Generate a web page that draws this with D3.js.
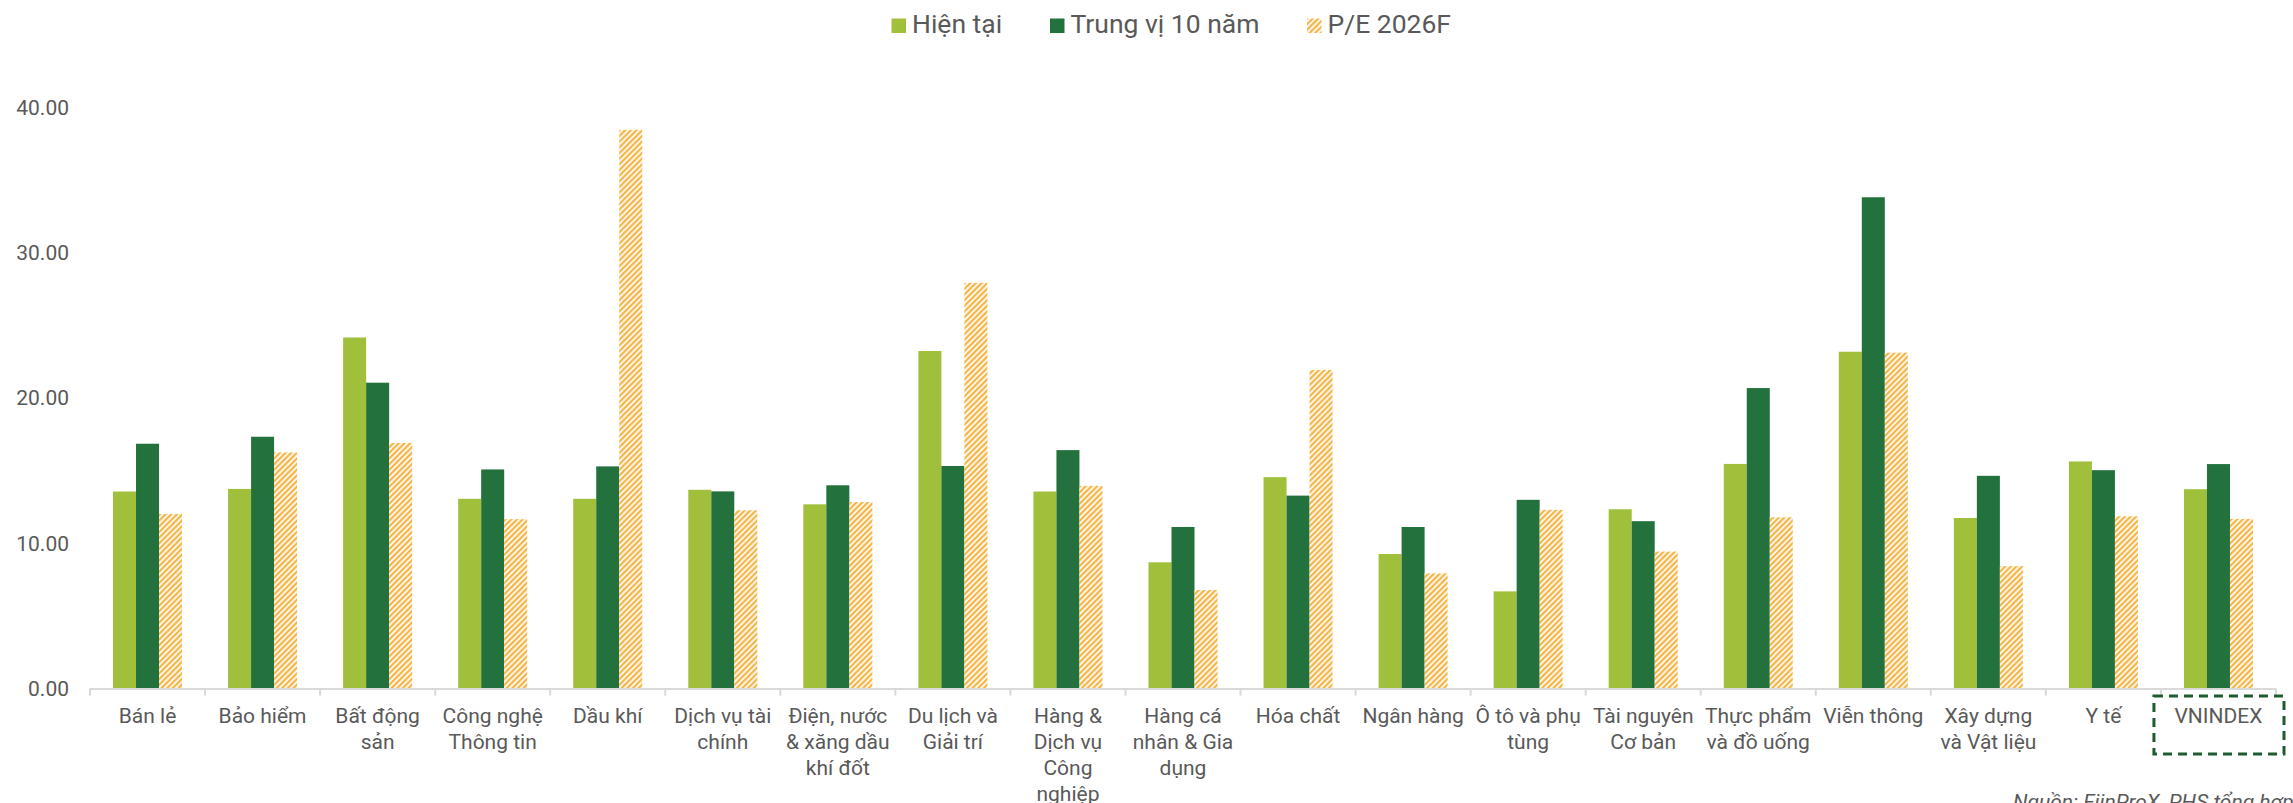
<!DOCTYPE html>
<html>
<head>
<meta charset="utf-8">
<script src="https://cdn.jsdelivr.net/npm/d3@7"></script>
<style>
  body { margin: 0; background: #fff; }
  text { font-family: Roboto, "Noto Sans", sans-serif; fill: #595959; }
</style>
</head>
<body>
<div id="chart-area"></div>
<script>
// P/E theo ngành
const categories = [
  "Bán lẻ", "Bảo hiểm", "Bất động\nsản", "Công nghệ\nThông tin", "Dầu khí",
  "Dịch vụ tài\nchính", "Điện, nước\n& xăng dầu\nkhí đốt", "Du lịch và\nGiải trí",
  "Hàng &\nDịch vụ\nCông\nnghiệp", "Hàng cá\nnhân & Gia\ndụng", "Hóa chất",
  "Ngân hàng", "Ô tô và phụ\ntùng", "Tài nguyên\nCơ bản", "Thực phẩm\nvà đồ uống",
  "Viễn thông", "Xây dựng\nvà Vật liệu", "Y tế", "VNINDEX"
]
const seriesNames = ["Hiện tại", "Trung vị 10 năm", "P/E 2026F"]
const hienTai  = [13.56, 13.74, 24.16, 13.06, 13.06, 13.68, 12.68, 23.23, 13.56, 8.69, 14.55, 9.26, 6.69, 12.34, 15.46, 23.18, 11.74, 15.63, 13.72]
const trungVi  = [16.85, 17.33, 21.05, 15.08, 15.29, 13.57, 13.99, 15.32, 16.41, 11.12, 13.28, 11.12, 12.99, 11.52, 20.68, 33.81, 14.64, 15.03, 15.45]
const pe2026   = [12.02, 16.25, 16.90, 11.66, 38.45, 12.27, 12.84, 27.92, 13.95, 6.78, 21.93, 7.93, 12.30, 9.43, 11.79, 23.12, 8.43, 11.86, 11.68]
const yTicks = [0, 10, 20, 30, 40]

const W = 2293, H = 803
const COLORS = ["#A0C03B", "#23713C", "#F6B548"]

const svg = d3.select("#chart-area").append("svg")
  .attr("width", W)
  .attr("height", H)

// hatch pattern for P/E 2026F
const defs = svg.append("defs")
const pat = defs.append("pattern")
  .attr("id", "hatch")
  .attr("patternUnits", "userSpaceOnUse")
  .attr("width", 4)
  .attr("height", 4)
  .attr("patternTransform", "rotate(45)")
pat.append("rect").attr("width", 4).attr("height", 4).attr("fill", "#fff")
pat.append("rect").attr("width", 2.3).attr("height", 4).attr("fill", COLORS[2])

const fills = [COLORS[0], COLORS[1], "url(#hatch)"]

const x = d3.scaleBand()
  .domain(categories)
  .range([90, 2276])

const bw = x.bandwidth()
const x1 = d3.scaleBand()
  .domain(seriesNames)
  .range([bw * 0.2, bw * 0.8])

const y = d3.scaleLinear()
  .domain([0, 40])
  .range([688.6, 107.3])

// Y axis
const yAxisCall = d3.axisLeft(y)
  .tickValues(yTicks)
  .tickSize(0)
  .tickPadding(3)
  .tickFormat(d3.format(".2f"))
const yAxis = svg.append("g")
  .attr("transform", "translate(72, 0)")
  .call(yAxisCall)
yAxis.select(".domain").remove()
yAxis.selectAll("text")
  .attr("font-size", "21px")
  .attr("font-family", "Roboto, sans-serif")
  .style("fill", "#595959")

// bars
const table = categories.map(function(c, i) {
  return { cat: c, values: [hienTai[i], trungVi[i], pe2026[i]] }
})

const groups = svg.selectAll("g.cat")
  .data(table)
  .enter().append("g")
  .attr("class", "cat")
  .attr("transform", function(d) { return "translate(" + x(d.cat) + ",0)" })

groups.selectAll("rect")
  .data(function(d) { return d.values.map(function(v, j) { return { s: seriesNames[j], v: v, j: j } }) })
  .enter().append("rect")
  .attr("x", function(d) { return x1(d.s) })
  .attr("y", function(d) { return y(d.v) })
  .attr("width", x1.bandwidth())
  .attr("height", function(d) { return y(0) - y(d.v) })
  .attr("fill", function(d) { return fills[d.j] })

// X axis line + ticks at band edges
const xAxis = svg.append("g").attr("class", "x axis")
xAxis.append("line")
  .attr("x1", x.range()[0]).attr("x2", x.range()[1])
  .attr("y1", y(0) + 0.5).attr("y2", y(0) + 0.5)
  .attr("stroke", "#d9d9d9").attr("stroke-width", 2)
const edges = categories.map(function(c) { return x(c) }).concat([x.range()[1]])
xAxis.selectAll("line.tick")
  .data(edges)
  .enter().append("line")
  .attr("class", "tick")
  .attr("x1", function(d) { return d }).attr("x2", function(d) { return d })
  .attr("y1", y(0)).attr("y2", y(0) + 7)
  .attr("stroke", "#d9d9d9").attr("stroke-width", 2)

const labels = xAxis.selectAll("text")
  .data(categories)
  .enter().append("text")
  .attr("text-anchor", "middle")
  .attr("font-size", "21px")
  .attr("y", 723.3)

labels.selectAll("tspan")
  .data(function(d) { return d.split("\n").map(function(t) { return { t: t, c: d } }) })
  .enter().append("tspan")
  .attr("x", function(d) { return x(d.c) + bw / 2 })
  .attr("dy", function(d, i) { return i === 0 ? 0 : 25.8 })
  .text(function(d) { return d.t })

// dashed highlight around VNINDEX
const last = categories[categories.length - 1]
svg.append("rect")
  .attr("x", x(last) - 7)
  .attr("y", 696)
  .attr("width", bw + 15)
  .attr("height", 58)
  .attr("fill", "none")
  .attr("stroke", "#1E5B2F")
  .attr("stroke-width", 3)
  .attr("stroke-dasharray", "9,6")

// legend
const legendX = [891.5, 1050, 1307]
const legend = svg.selectAll("g.legend")
  .data(seriesNames)
  .enter().append("g")
  .attr("class", "legend")
  .attr("transform", function(d, i) { return "translate(" + legendX[i] + ",0)" })
legend.append("rect")
  .attr("x", 0).attr("y", 18.5)
  .attr("width", 14.5).attr("height", 14.5)
  .attr("fill", function(d, i) { return fills[i] })
legend.append("text")
  .attr("x", 20.5).attr("y", 32.7)
  .attr("font-size", "26.5px")
  .text(function(d) { return d })

// source
svg.append("text")
  .attr("x", 2013)
  .attr("y", 809)
  .attr("font-size", "21px")
  .attr("font-style", "italic")
  .text("Nguồn: FiinProX, PHS tổng hợp")
</script>
</body>
</html>
